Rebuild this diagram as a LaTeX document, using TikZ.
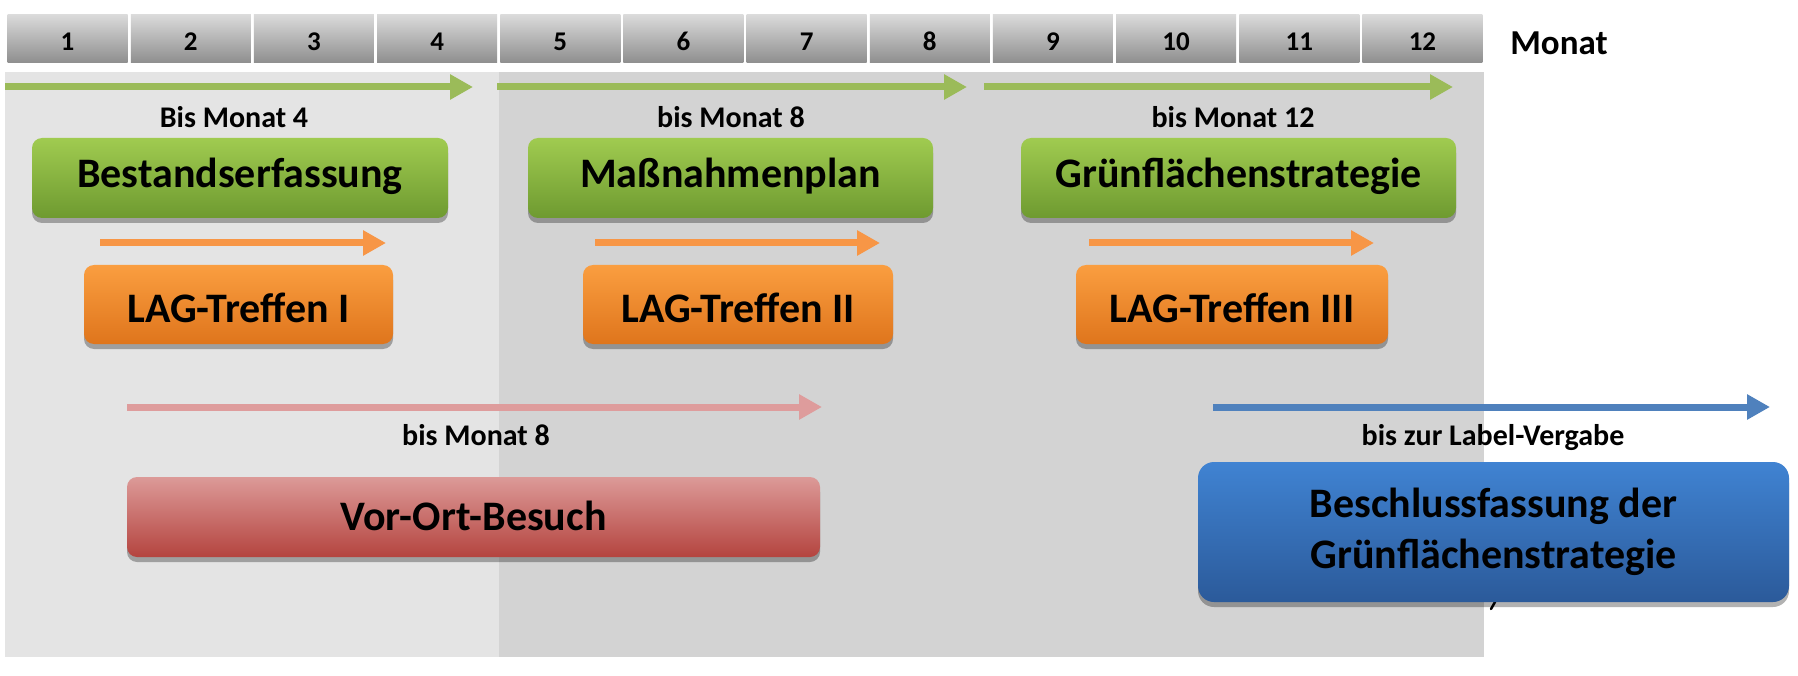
\documentclass[tikz,border=0pt]{standalone}
\usepackage{fontspec}
\setmainfont{Carlito}
\usetikzlibrary{arrows.meta,shadows}
\definecolor{panelA}{HTML}{E4E4E4}
\definecolor{panelB}{HTML}{D3D3D3}
\definecolor{hdtop}{HTML}{DADADA}
\definecolor{hdbot}{HTML}{8E8E8E}
\definecolor{garr}{HTML}{9BBB59}
\definecolor{gtop}{HTML}{A0CB50}
\definecolor{gbot}{HTML}{6E9A30}
\definecolor{oarr}{HTML}{F79646}
\definecolor{otop}{HTML}{FA9E40}
\definecolor{obot}{HTML}{DF751C}
\definecolor{parr}{HTML}{DE9C9C}
\definecolor{rtop}{HTML}{DC9A98}
\definecolor{rbot}{HTML}{B4443F}
\definecolor{barr}{HTML}{4F81BD}
\definecolor{btop}{HTML}{4083D2}
\definecolor{bbot}{HTML}{2B5A9A}
\begin{document}
\begin{tikzpicture}[x=1pt,y=-1pt,
  every node/.style={inner sep=0pt, outer sep=0pt, text=black, font=\bfseries},
  hcell/.style={rectangle, top color=hdtop, bottom color=hdbot, minimum width=120, minimum height=48,
    font=\bfseries\fontsize{27}{30}\selectfont, text height=24pt, text depth=0pt},
  lbl/.style={font=\bfseries\fontsize{30}{34}\selectfont, text height=19pt, text depth=1pt},
  boxbase/.style={rectangle, rounded corners=10pt, font=\bfseries\fontsize{42}{51}\selectfont,
    drop shadow={shadow xshift=0pt, shadow yshift=-5pt, opacity=0.3, fill=black}},
  gbox/.style={boxbase, top color=gtop, bottom color=gbot, minimum height=80, text height=28pt, text depth=8pt},
  obox/.style={boxbase, top color=otop, bottom color=obot, minimum height=79, text height=35pt, text depth=0pt},
  rbox/.style={boxbase, top color=rtop, bottom color=rbot, minimum height=80, text height=30pt, text depth=4pt},
  bbox/.style={boxbase, rounded corners=16pt, top color=btop, bottom color=bbot, minimum height=140, text height=80pt, text depth=8pt},
  tarrow/.style={line width=7pt, -{Triangle[length=23pt,width=24pt]}},
]
\useasboundingbox (0,0) rectangle (1798,676);
\fill[white] (0,0) rectangle (1798,676);
% panels
\fill[panelA] (5,72) rectangle (498.7,657);
\fill[panelB] (498.7,72) rectangle (1484,657);
% header
\foreach \i in {1,...,12} {
  \node[hcell] (m\i) at ({6+123.17*(\i-0.5)},39) {\i};
}
\node[font=\bfseries\fontsize{35}{40}\selectfont, text height=22pt, text depth=0pt] (monat) at (1559,44) {Monat};
% green arrows
\coordinate (g1s) at (5,87);   \coordinate (g1e) at (473,87);
\coordinate (g2s) at (497,87); \coordinate (g2e) at (967,87);
\coordinate (g3s) at (984,87); \coordinate (g3e) at (1453,87);
\draw[tarrow, garr] (g1s) -- (g1e);
\draw[tarrow, garr] (g2s) -- (g2e);
\draw[tarrow, garr] (g3s) -- (g3e);
\node[lbl] (l1) at (234,119) {Bis Monat 4};
\node[lbl] (l2) at (731,119) {bis Monat 8};
\node[lbl] (l3) at (1233,119) {bis Monat 12};
% green boxes
\node[gbox, minimum width=416] (b1) at (240,178) {Bestandserfassung};
\node[gbox, minimum width=405] (b2) at (730.5,178) {Maßnahmenplan};
\node[gbox, minimum width=435] (b3) at (1238.5,178) {Grünflächenstrategie};
% orange arrows
\coordinate (o1s) at (100,243);  \coordinate (o1e) at (386,243);
\coordinate (o2s) at (595,243);  \coordinate (o2e) at (880,243);
\coordinate (o3s) at (1089,243); \coordinate (o3e) at (1374,243);
\draw[tarrow, oarr] (o1s) -- (o1e);
\draw[tarrow, oarr] (o2s) -- (o2e);
\draw[tarrow, oarr] (o3s) -- (o3e);
% orange boxes
\node[obox, minimum width=309] (t1) at (238.5,304.5) {LAG-Treffen I};
\node[obox, minimum width=310] (t2) at (738,304.5) {LAG-Treffen II};
\node[obox, minimum width=312] (t3) at (1232,304.5) {LAG-Treffen III};
% pink arrow and red box
\coordinate (ps) at (127,407); \coordinate (pe) at (822,407);
\draw[tarrow, parr] (ps) -- (pe);
\node[lbl] (l4) at (476,436) {bis Monat 8};
\node[rbox, minimum width=693] (vo) at (473.5,517) {Vor-Ort-Besuch};
% blue arrow and box
\coordinate (bs) at (1213,407); \coordinate (be) at (1770,407);
\draw[tarrow, barr] (bs) -- (be);
\node[lbl] (l5) at (1493,436) {bis zur Label-Vergabe};
\draw[line width=2.5pt, line cap=round] (1495,602) -- (1491,609);
\node[bbox, minimum width=591] (bg) at (1493.5,532)
  {\parbox[b]{560pt}{\centering Beschlussfassung der\\Grünflächenstrategie}};
\end{tikzpicture}
\end{document}
